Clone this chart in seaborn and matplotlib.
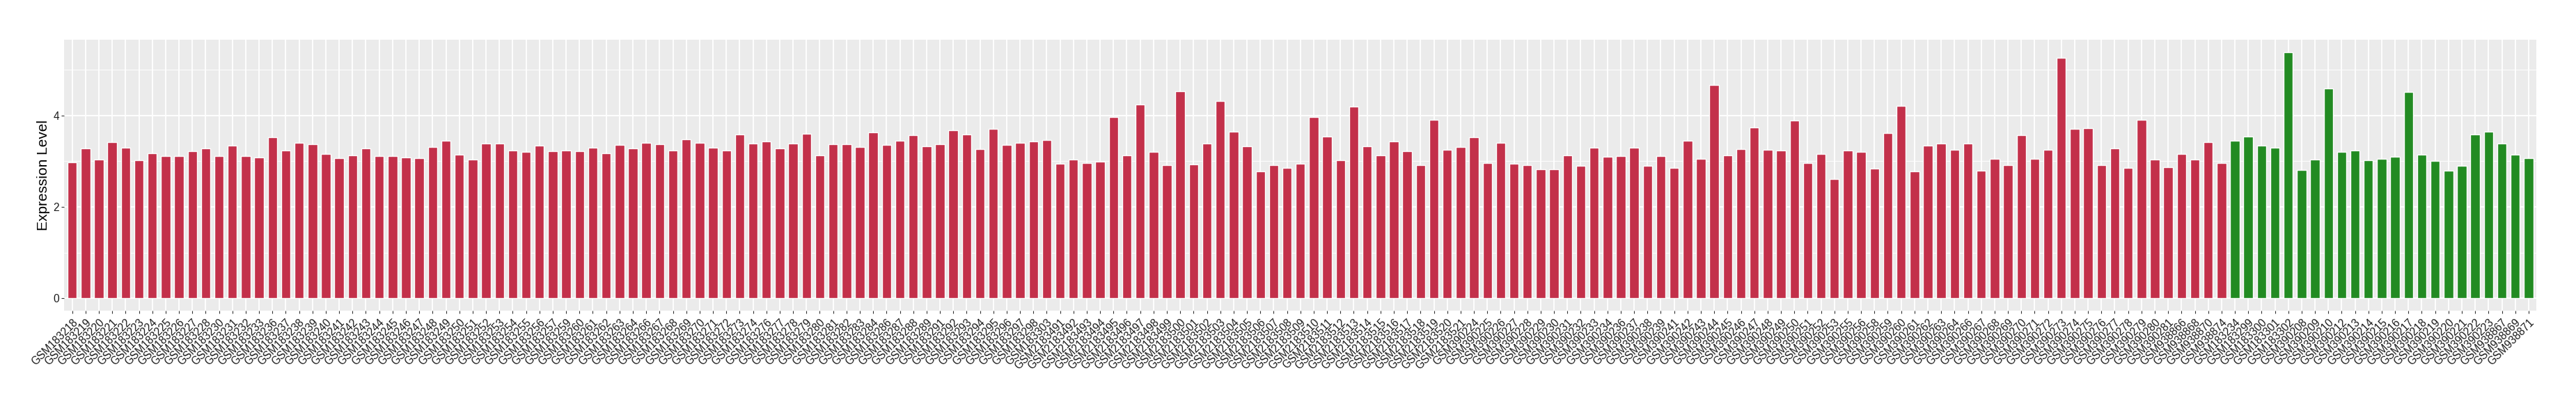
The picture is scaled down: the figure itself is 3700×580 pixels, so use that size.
import seaborn as sns
import matplotlib.pyplot as plt
import pandas as pd
from matplotlib.ticker import FixedLocator

# sample ids, in plot order
red_samples = [
    "GSM183218", "GSM183219", "GSM183220", "GSM183221", "GSM183222", "GSM183223",
    "GSM183224", "GSM183225", "GSM183226", "GSM183227", "GSM183228", "GSM183230",
    "GSM183231", "GSM183232", "GSM183233", "GSM183236", "GSM183237", "GSM183238",
    "GSM183239", "GSM183240", "GSM183241", "GSM183242", "GSM183243", "GSM183244",
    "GSM183245", "GSM183246", "GSM183247", "GSM183248", "GSM183249", "GSM183250",
    "GSM183251", "GSM183252", "GSM183253", "GSM183254", "GSM183255", "GSM183256",
    "GSM183257", "GSM183259", "GSM183260", "GSM183261", "GSM183262", "GSM183263",
    "GSM183264", "GSM183266", "GSM183267", "GSM183268", "GSM183269", "GSM183270",
    "GSM183271", "GSM183272", "GSM183273", "GSM183274", "GSM183276", "GSM183277",
    "GSM183278", "GSM183279", "GSM183280", "GSM183281", "GSM183282", "GSM183283",
    "GSM183284", "GSM183286", "GSM183287", "GSM183288", "GSM183289", "GSM183291",
    "GSM183292", "GSM183293", "GSM183294", "GSM183295", "GSM183296", "GSM183297",
    "GSM183298", "GSM183303",
    "GSM2183491", "GSM2183492", "GSM2183493", "GSM2183494", "GSM2183495", "GSM2183496",
    "GSM2183497", "GSM2183498", "GSM2183499", "GSM2183500", "GSM2183501", "GSM2183502",
    "GSM2183503", "GSM2183504", "GSM2183505", "GSM2183506", "GSM2183507", "GSM2183508",
    "GSM2183509", "GSM2183510", "GSM2183511", "GSM2183512", "GSM2183513", "GSM2183514",
    "GSM2183515", "GSM2183516", "GSM2183517", "GSM2183518", "GSM2183519", "GSM2183520",
    "GSM2183521",
    "GSM390224", "GSM390225", "GSM390226", "GSM390227", "GSM390228", "GSM390229",
    "GSM390230", "GSM390231", "GSM390232", "GSM390233", "GSM390234", "GSM390236",
    "GSM390237", "GSM390238", "GSM390239", "GSM390241", "GSM390242", "GSM390243",
    "GSM390244", "GSM390245", "GSM390246", "GSM390247", "GSM390248", "GSM390249",
    "GSM390250", "GSM390251", "GSM390252", "GSM390253", "GSM390255", "GSM390256",
    "GSM390258", "GSM390259", "GSM390260", "GSM390261", "GSM390262", "GSM390263",
    "GSM390264", "GSM390266", "GSM390267", "GSM390268", "GSM390269", "GSM390270",
    "GSM390271", "GSM390272", "GSM390273", "GSM390274", "GSM390275", "GSM390276",
    "GSM390277", "GSM390278", "GSM390279", "GSM390280", "GSM390281",
    "GSM938866", "GSM938868", "GSM938870", "GSM938874",
]
green_samples = [
    "GSM183234", "GSM183299", "GSM183300", "GSM183301", "GSM183302",
    "GSM390208", "GSM390209", "GSM390210", "GSM390212", "GSM390213", "GSM390214",
    "GSM390215", "GSM390216", "GSM390217", "GSM390218", "GSM390219", "GSM390220",
    "GSM390221", "GSM390222", "GSM390223",
    "GSM938867", "GSM938869", "GSM938871",
]

red_values = [
    2.97, 3.28, 3.03, 3.42, 3.29, 3.02, 3.17, 3.11, 3.11, 3.21, 3.28, 3.11,
    3.34, 3.11, 3.08, 3.52, 3.23, 3.40, 3.37, 3.16, 3.06, 3.12, 3.28, 3.11,
    3.11, 3.08, 3.06, 3.31, 3.44, 3.14, 3.03, 3.38,
    3.38, 3.23, 3.20, 3.34, 3.22, 3.23, 3.22, 3.29, 3.17, 3.35, 3.28, 3.40,
    3.37, 3.23, 3.48, 3.40, 3.29, 3.23, 3.58, 3.38, 3.43, 3.28, 3.38, 3.60,
    3.13, 3.37, 3.37, 3.31, 3.63, 3.35, 3.44, 3.57, 3.32, 3.37, 3.67, 3.58,
    3.26, 3.70, 3.35, 3.40, 3.43, 3.46, 2.94, 3.04, 2.96, 2.99, 3.96, 3.13,
    4.23, 3.20, 2.91, 4.52, 2.93, 3.38, 4.32, 3.64, 3.32, 2.78, 2.91, 2.85,
    2.94, 3.96, 3.54, 3.02, 4.19, 3.32, 3.13, 3.43, 3.22, 2.91, 3.90, 3.25,
    3.31, 3.52, 2.96, 3.40,
    2.94, 2.91, 2.82, 2.82, 3.13, 2.90, 3.29, 3.10, 3.11, 3.29, 2.90, 3.11,
    2.85, 3.44, 3.05, 4.67, 3.13, 3.26, 3.73, 3.25, 3.23, 3.88, 2.96, 3.16,
    2.61, 3.23, 3.20, 2.84, 3.61, 4.20, 2.78, 3.34, 3.38, 3.25, 3.38, 2.79,
    3.05, 2.91, 3.57, 3.05,
    3.25, 5.26, 3.70, 3.72, 2.91, 3.28, 2.85, 3.91, 3.04, 2.87, 3.16, 3.04,
    3.41, 2.96,
]
green_values = [
    3.44, 3.54, 3.34, 3.29, 5.38, 2.81, 3.04, 4.58, 3.20, 3.23, 3.02, 3.05,
    3.10, 4.51, 3.14, 3.01, 2.79, 2.90, 3.58, 3.64, 3.38, 3.14, 3.07,
]

group_colors = {"red": "#C3304A", "green": "#228B22"}

df = pd.DataFrame({
    "sample": red_samples + green_samples,
    "value": red_values + green_values,
    "group": ["red"] * len(red_samples) + ["green"] * len(green_samples),
})

sns.set_theme(style="darkgrid", rc={
    "axes.facecolor": "#EBEBEB",
    "grid.color": "white",
    "axes.edgecolor": "#EBEBEB",
})
plt.rcParams["font.family"] = ["Liberation Sans", "DejaVu Sans"]

fig, ax = plt.subplots(figsize=(37, 5.8), dpi=100)
fig.subplots_adjust(left=0.0249, right=0.9847, bottom=0.231, top=0.9017)

sns.barplot(data=df, x="sample", y="value", hue="group", palette=group_colors,
            order=df["sample"], dodge=False, width=0.7, saturation=1,
            legend=False, ax=ax)

ax.set_xlim(-0.6, len(df) - 0.4)
ax.set_ylim(-0.269, 5.653)
ax.yaxis.set_major_locator(FixedLocator([0, 2, 4]))
ax.yaxis.set_minor_locator(FixedLocator([1, 3, 5]))
ax.grid(which="major", color="white", linewidth=1.3)
ax.grid(which="minor", axis="y", color="white", linewidth=0.65)
ax.set_axisbelow(True)
for s in ax.spines.values():
    s.set_visible(False)

ax.tick_params(axis="both", which="major", length=3, width=0.8, color="#333333",
               labelcolor="#1A1A1A", labelsize=11.2, bottom=True, left=True)
ax.tick_params(axis="y", which="minor", length=0)
ax.tick_params(axis="y", pad=2)
for lbl in ax.get_xticklabels():
    lbl.set_rotation(45)
    lbl.set_ha("right")
    lbl.set_rotation_mode("anchor")

ax.set_xlabel("")
ax.set_ylabel("Expression Level", fontsize=15, color="black", labelpad=3)

fig.savefig("out.png", dpi=100)
